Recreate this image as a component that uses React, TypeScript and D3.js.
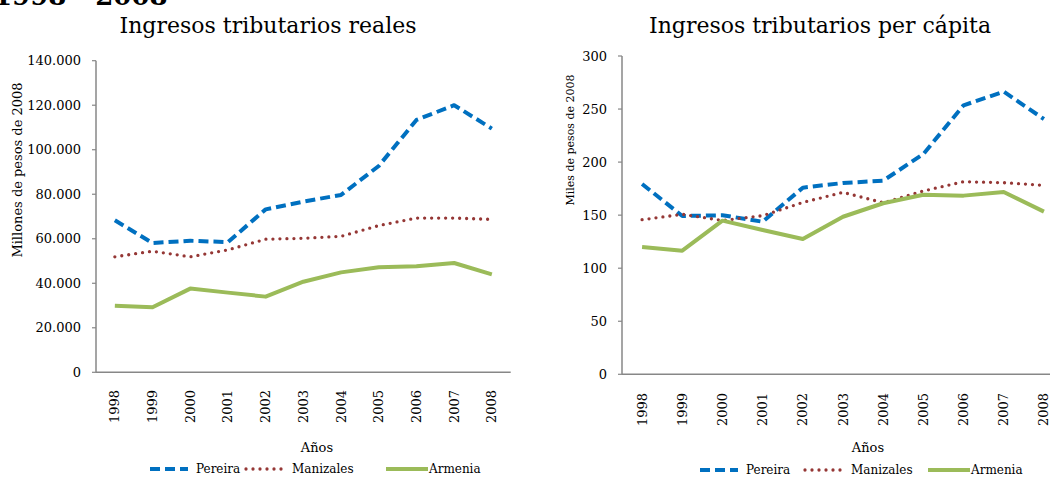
import React from "react";
import * as d3 from "d3";

const years = ["1998","1999","2000","2001","2002","2003","2004","2005","2006","2007","2008"];

const realPereira = [68300, 58100, 59100, 58500, 73200, 76700, 79700, 92700, 113400, 120000, 109500];
const realManizales = [51900, 54400, 51900, 55000, 59800, 60200, 61100, 65900, 69300, 69300, 68700];
const realArmenia = [29900, 29200, 37600, 35800, 34000, 40700, 44900, 47200, 47600, 49100, 44000];

const pcPereira = [179.4, 149.2, 149.9, 143.8, 175.9, 180.3, 182.5, 207.6, 253.5, 266.4, 240.6];
const pcManizales = [145.7, 150.8, 145.0, 149.5, 162.0, 171.5, 161.7, 172.8, 181.5, 180.6, 178.1];
const pcArmenia = [120.0, 116.5, 144.8, 136.0, 127.5, 148.5, 161.2, 169.3, 168.4, 171.8, 153.3];

const realTicks = [0, 20000, 40000, 60000, 80000, 100000, 120000, 140000];
const pcTicks = [0, 50, 100, 150, 200, 250, 300];

const seriesNames = ["Pereira", "Manizales", "Armenia"];

const FONT = "'DejaVu Serif', serif";
const AXIS = "#878787";

const styles: Record<string, { color: string; width: number; dash: string; cap: string }> = {
  Pereira: { color: "#0070C0", width: 4, dash: "10,5", cap: "butt" },
  Manizales: { color: "#953735", width: 3.3, dash: "0,7", cap: "round" },
  Armenia: { color: "#9BBB59", width: 4, dash: "", cap: "butt" },
};

const loc = d3.formatLocale({ decimal: ",", thousands: ".", grouping: [3], currency: ["", ""] });
const fmtThousands = loc.format(",");

type PanelProps = {
  title: string;
  titleX: number;
  yTitle: string;
  yTitleX: number;
  yTitleY: number;
  yTitleSize: number;
  x0: number;
  x1: number;
  yTop: number;
  yBot: number;
  yMax: number;
  ticks: number[];
  fmt: (v: number) => string;
  data: number[][];
  xLabelTop: number;
  anosX: number;
  legendY: number;
  legendXs: number[];
};

function Panel(p: PanelProps) {
  const x = d3.scaleBand<string>().domain(years).range([p.x0, p.x1]).padding(0);
  const y = d3.scaleLinear().domain([0, p.yMax]).range([p.yBot, p.yTop]);
  const line = d3
    .line<number>()
    .x((_, i) => (x(years[i]) as number) + x.bandwidth() / 2)
    .y((d) => y(d));
  return (
    <g>
      <text x={p.titleX} y={33} textAnchor="middle" fontSize={22} fontFamily={FONT} fill="#000">
        {p.title}
      </text>
      {/* y axis */}
      <line x1={p.x0} x2={p.x0} y1={y(p.yMax)} y2={y(0)} stroke={AXIS} strokeWidth={1.5} />
      {p.ticks.map((t) => (
        <g key={t}>
          <line x1={p.x0 - 4} x2={p.x0} y1={y(t)} y2={y(t)} stroke={AXIS} strokeWidth={1.2} />
          <text x={p.x0 - 15} y={y(t)} dy="0.35em" textAnchor="end" fontSize={13} fontFamily={FONT} fill="#000">
            {p.fmt(t)}
          </text>
        </g>
      ))}
      <text
        transform={`translate(${p.yTitleX},${p.yTitleY}) rotate(-90)`}
        textAnchor="middle"
        fontSize={p.yTitleSize}
        fontFamily={FONT}
        fill="#000"
      >
        {p.yTitle}
      </text>
      {/* x axis */}
      <line x1={p.x0} x2={p.x1} y1={y(0)} y2={y(0)} stroke={AXIS} strokeWidth={1.5} />
      {years.map((yr) => {
        const cx = (x(yr) as number) + x.bandwidth() / 2;
        return (
          <text
            key={yr}
            transform={`translate(${cx + 4.5},${p.xLabelTop}) rotate(-90)`}
            textAnchor="end"
            fontSize={13}
            fontFamily={FONT}
            fill="#000"
          >
            {yr}
          </text>
        );
      })}
      <text x={p.anosX} y={452} textAnchor="middle" fontSize={13} fontFamily={FONT} fill="#000">
        Años
      </text>
      {/* lines */}
      {p.data.map((vals, i) => {
        const s = styles[seriesNames[i]];
        return (
          <path
            key={i}
            d={line(vals) || ""}
            fill="none"
            stroke={s.color}
            strokeWidth={s.width}
            strokeDasharray={s.dash || undefined}
            strokeLinecap={s.cap as any}
            strokeLinejoin="round"
          />
        );
      })}
      {/* legend */}
      {seriesNames.map((n, i) => {
        const s = styles[n];
        const lx = p.legendXs[i];
        const len = n === "Armenia" ? 42 : 38;
        return (
          <g key={n}>
            <line
              x1={lx}
              x2={lx + len}
              y1={p.legendY}
              y2={p.legendY}
              stroke={s.color}
              strokeWidth={s.width}
              strokeDasharray={s.dash || undefined}
              strokeLinecap={s.cap as any}
            />
            <text x={lx + len + (n === "Armenia" ? 1 : 8)} y={p.legendY} dy="0.35em" fontSize={12} fontFamily={FONT} fill="#000">
              {n}
            </text>
          </g>
        );
      })}
    </g>
  );
}

export default function App() {
  return (
    <div style={{ position: "absolute", left: 0, top: 0, width: 1050, height: 477, overflow: "hidden", background: "#fff" }}>
      <svg width={1050} height={477} style={{ display: "block" }}>
        <text x={-6} y={5} fontSize={26} fontWeight="bold" fontFamily={FONT} fill="#000">
          1998 - 2008
        </text>
        <Panel
          title="Ingresos tributarios reales"
          titleX={268}
          yTitle="Millones de pesos de 2008"
          yTitleX={22}
          yTitleY={170}
          yTitleSize={13}
          x0={96}
          x1={510.7}
          yTop={60.7}
          yBot={372.3}
          yMax={140000}
          ticks={realTicks}
          fmt={(v) => fmtThousands(v)}
          data={[realPereira, realManizales, realArmenia]}
          xLabelTop={390}
          anosX={317}
          legendY={469}
          legendXs={[150, 246, 386]}
        />
        <Panel
          title="Ingresos tributarios per cápita"
          titleX={820}
          yTitle="Miles de pesos de 2008"
          yTitleX={574}
          yTitleY={140}
          yTitleSize={11}
          x0={622}
          x1={1064}
          yTop={56}
          yBot={374.3}
          yMax={300}
          ticks={pcTicks}
          fmt={(v) => String(v)}
          data={[pcPereira, pcManizales, pcArmenia]}
          xLabelTop={393}
          anosX={868}
          legendY={470}
          legendXs={[700, 805, 928]}
        />
      </svg>
    </div>
  );
}
